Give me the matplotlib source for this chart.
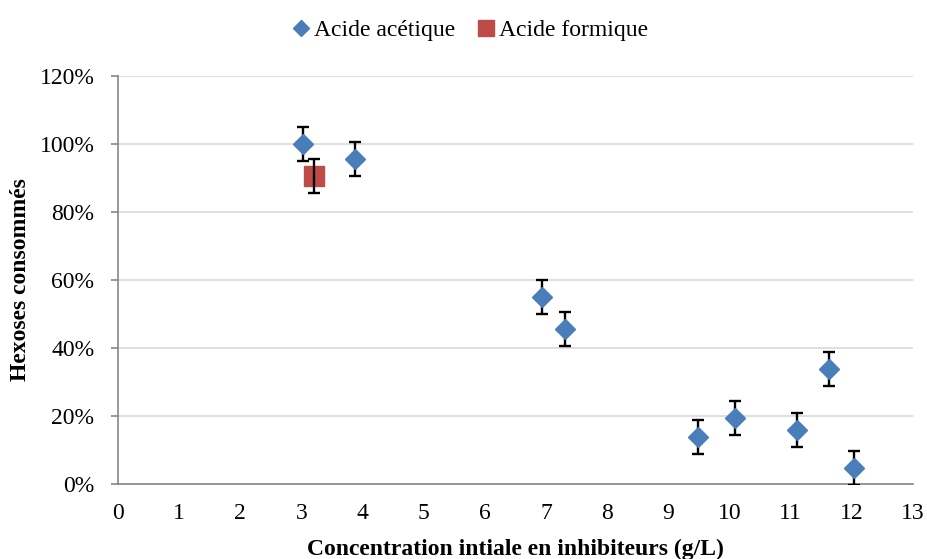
import numpy as np
import matplotlib
matplotlib.use("Agg")
import matplotlib.pyplot as plt
from matplotlib.ticker import FuncFormatter

# acetic acid series
acet_x = [3.03, 3.88, 6.93, 7.31, 9.48, 10.09, 11.10, 11.63, 12.04]
acet_y = [100.0, 95.5, 55.0, 45.5, 13.8, 19.3, 15.9, 33.8, 4.7]
acet_err = [5, 5, 5, 5, 5, 5, 5, 5, 5]

# formic acid series
form_x = [3.20]
form_y = [90.7]
form_err = [5]

BLUE = "#4a7ebb"
RED = "#be4b48"
GRID = "#d9d9d9"
AXIS = "#868686"
FS = 17

plt.rcParams["font.family"] = ["Liberation Serif", "DejaVu Serif"]

fig = plt.figure(figsize=(9.27, 5.59), dpi=100)
ax = fig.add_axes([0.1273, 0.1342, 0.8576, 0.7298])

ax.errorbar(acet_x, acet_y, yerr=acet_err, fmt="none", ecolor="black",
            elinewidth=1.7, capsize=4.5, capthick=1.7, zorder=3)
ax.errorbar(form_x, form_y, yerr=form_err, fmt="none", ecolor="black",
            elinewidth=1.7, capsize=4.5, capthick=1.7, zorder=3)
ax.plot(acet_x, acet_y, linestyle="none", marker="D", markersize=10,
        color=BLUE, markeredgecolor=BLUE, zorder=4, label="Acide acétique")
ax.plot(form_x, form_y, linestyle="none", marker="s", markersize=14,
        color=RED, markeredgecolor=RED, zorder=2, label="Acide formique")

ax.set_xlim(0, 13)
ax.set_ylim(0, 120)
ax.set_xticks(range(0, 14))
ax.set_yticks(range(0, 121, 20))
ax.yaxis.set_major_formatter(FuncFormatter(lambda v, _: f"{v:.0f}%"))

ax.grid(axis="y", color=GRID, linewidth=1.2)
ax.set_axisbelow(True)
for side in ("top", "right"):
    ax.spines[side].set_visible(False)
for side in ("left", "bottom"):
    ax.spines[side].set_color(AXIS)
    ax.spines[side].set_linewidth(1.2)

ax.tick_params(axis="x", length=0, pad=14, labelsize=FS)
ax.tick_params(axis="y", length=5, color=AXIS, width=1.2, pad=12, labelsize=FS)

# axis titles placed in figure coordinates
fig.text(0.5555, 0.018, "Concentration intiale en inhibiteurs (g/L)",
         fontsize=FS, fontweight="bold", ha="center", va="center")
fig.text(0.022, 0.50, "Hexoses consommés", fontsize=FS, fontweight="bold",
         ha="center", va="center", rotation=90)

fig.legend(loc="upper center", bbox_to_anchor=(0.507, 1.003), ncol=2,
           frameon=False, fontsize=FS, handlelength=0.8, handletextpad=0.15,
           columnspacing=0.9, markerscale=0.8)

fig.savefig("out.png", dpi=100)
